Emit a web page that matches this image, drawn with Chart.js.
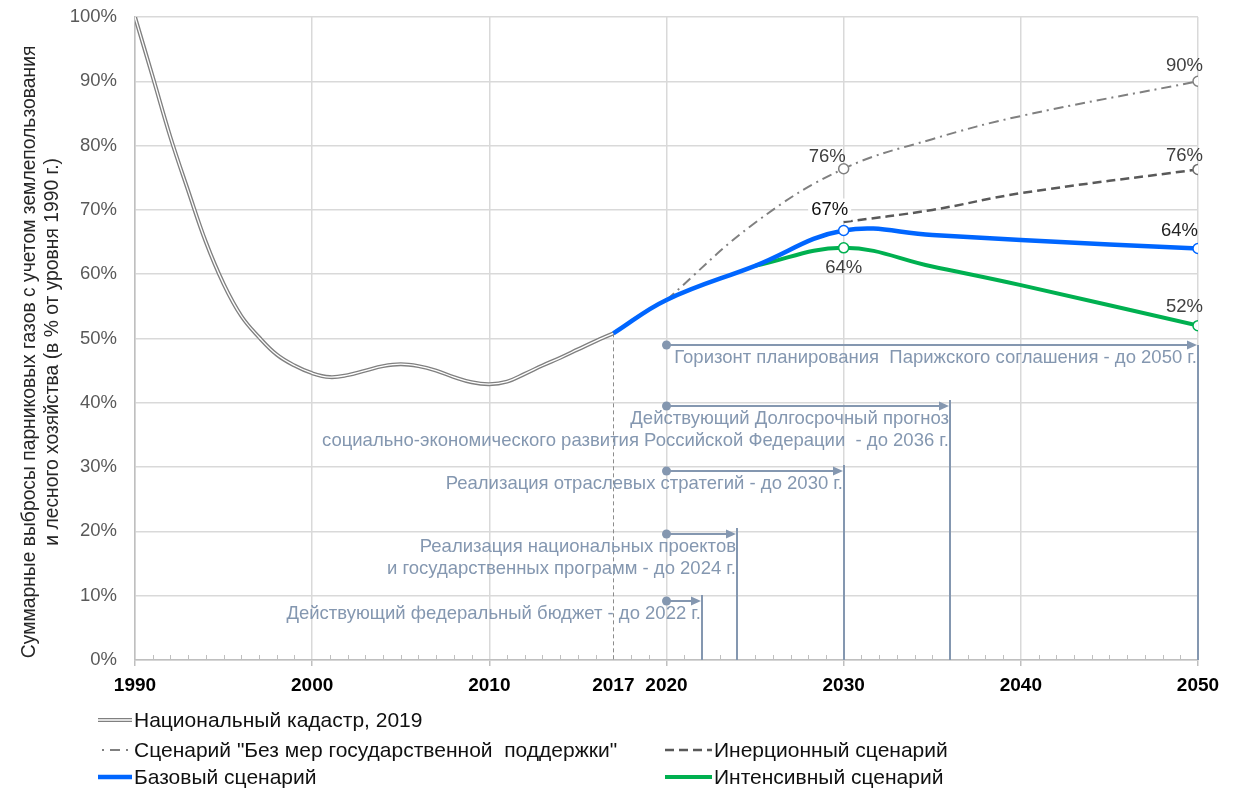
<!DOCTYPE html>
<html lang="ru">
<head>
  <meta charset="UTF-8">
  <title>Суммарные выбросы парниковых газов</title>
  <script src="https://cdn.jsdelivr.net/npm/chart.js"></script>
  <style>
    body { margin: 0; background: #fff; font-family: "Liberation Sans", Arial, sans-serif; }
    .wrap { position: relative; width: 1242px; height: 788px; }
    .legend-item { position: absolute; display: flex; align-items: center; height: 26px;
      font-size: 21px; color: #111; white-space: pre; }
    .legend-item svg { display: block; margin-right: 2px; }
  </style>
</head>
<body>
  <div class="wrap">
    <canvas id="chart" width="1242" height="788"></canvas>
    <div id="legend"></div>
  </div>
  <script>
    // national inventory, 1990-2017
    const cadastreYears = [1990, 1991, 1992, 1993, 1994, 1995, 1996, 1997, 1998, 1999,
      2000, 2001, 2002, 2003, 2004, 2005, 2006, 2007, 2008, 2009,
      2010, 2011, 2012, 2013, 2014, 2015, 2016, 2017];
    const cadastreValues = [100, 90.7, 81.3, 73.0, 65.0, 58.5, 53.5, 50.2, 47.5, 45.8,
      44.6, 44.0, 44.3, 45.0, 45.7, 46.0, 45.7, 45.0, 44.0, 43.2,
      42.9, 43.3, 44.5, 45.8, 47.0, 48.3, 49.6, 50.8];

    // scenarios
    const baseYears = [2017, 2020, 2025, 2030, 2035, 2040, 2050];
    const baseValues = [50.8, 56.0, 61.3, 66.8, 66.1, 65.3, 64.0];
    const intensiveYears = [2025, 2030, 2035, 2040, 2050];
    const intensiveValues = [61.3, 64.1, 61.2, 58.3, 52.0];
    const inertiaYears = [2030, 2035, 2040, 2050];
    const inertiaValues = [68.1, 70.0, 72.6, 76.3];
    const noSupportYears = [2020, 2025, 2030, 2035, 2040, 2050];
    const noSupportValues = [56.0, 68.0, 76.4, 81.0, 84.6, 90.0];

    const xTickYears = [1990, 2000, 2010, 2017, 2020, 2030, 2040, 2050];

    // planning horizons
    const horizonStart = 2020;
    const horizonEnds = [2050, 2036, 2030, 2024, 2022];
    const horizonLevels = [49.0, 39.5, 29.4, 19.6, 9.2];
    const horizonTexts = [
      ['Горизонт планирования  Парижского соглашения - до 2050 г.'],
      ['Действующий Долгосрочный прогноз', 'социально-экономического развития Российской Федерации  - до 2036 г.'],
      ['Реализация отраслевых стратегий - до 2030 г.'],
      ['Реализация национальных проектов', 'и государственных программ - до 2024 г.'],
      ['Действующий федеральный бюджет - до 2022 г.']
    ];

    const FONT = '"Liberation Sans", Arial, sans-serif';
    const HORIZON = '#8497b0';
    const NONE = 'rgba(0,0,0,0)';
    Chart.defaults.font.family = FONT;

    const pts = (xs, ys) => xs.map((x, i) => ({ x: x, y: ys[i] }));
    const markers = years => c => years.includes(c.raw.x) ? 5 : 0;

    // value labels: dataset index, year, offsets
    const pointLabels = [
      { ds: 3, year: 2030, dx: 2, dy: -12, align: 'right', color: '#404040' },
      { ds: 3, year: 2050, dx: 5, dy: -15, align: 'right', color: '#404040' },
      { ds: 2, year: 2050, dx: 5, dy: -13, align: 'right', color: '#404040' },
      { ds: 0, year: 2030, dx: -14, dy: -21, align: 'center', color: '#111', bg: true },
      { ds: 0, year: 2050, dx: 0, dy: -18, align: 'right', color: '#222' },
      { ds: 1, year: 2030, dx: 0, dy: 20, align: 'center', color: '#404040' },
      { ds: 1, year: 2050, dx: 5, dy: -19, align: 'right', color: '#404040' }
    ];

    const extras = {
      id: 'extras',
      beforeDatasetsDraw(chart) {
        const { ctx, scales: { x, y } } = chart;
        const y0 = y.getPixelForValue(0);
        ctx.save();
        // yearly minor ticks
        ctx.strokeStyle = '#bfbfbf';
        ctx.lineWidth = 1;
        for (let yr = 1991; yr < 2050; yr++) {
          if (yr % 10 === 0) continue;
          const px = Math.round(x.getPixelForValue(yr)) + 0.5;
          ctx.beginPath(); ctx.moveTo(px, y0); ctx.lineTo(px, y0 - 5); ctx.stroke();
        }
        // end of inventory data
        const last = cadastreYears.length - 1;
        const lx = Math.round(x.getPixelForValue(cadastreYears[last])) + 0.5;
        ctx.strokeStyle = '#8c8c8c';
        ctx.setLineDash([4, 3]);
        ctx.beginPath(); ctx.moveTo(lx, y.getPixelForValue(cadastreValues[last])); ctx.lineTo(lx, y0); ctx.stroke();
        ctx.setLineDash([]);

        // horizons
        ctx.strokeStyle = HORIZON;
        ctx.fillStyle = HORIZON;
        ctx.lineWidth = 2;
        ctx.font = '18.5px ' + FONT;
        ctx.textAlign = 'right';
        ctx.textBaseline = 'middle';
        horizonLevels.forEach((lv, i) => {
          const py = Math.round(y.getPixelForValue(lv));
          const xs = x.getPixelForValue(horizonStart);
          const xe = Math.round(x.getPixelForValue(horizonEnds[i]));
          ctx.beginPath(); ctx.moveTo(xe, i === 0 ? py : py - 6); ctx.lineTo(xe, y0); ctx.stroke();
          ctx.beginPath(); ctx.moveTo(xs, py); ctx.lineTo(xe - 8, py); ctx.stroke();
          ctx.beginPath(); ctx.moveTo(xe - 1, py); ctx.lineTo(xe - 11, py - 4.5); ctx.lineTo(xe - 11, py + 4.5); ctx.closePath(); ctx.fill();
          ctx.beginPath(); ctx.arc(xs, py, 4.5, 0, Math.PI * 2); ctx.fill();
          horizonTexts[i].forEach((t, k) => ctx.fillText(t, xe - 1, py + 13 + k * 22));
        });
        ctx.restore();
      },
      afterDatasetsDraw(chart) {
        const { ctx } = chart;
        ctx.save();
        ctx.font = '18.5px ' + FONT;
        ctx.textBaseline = 'middle';
        pointLabels.forEach(l => {
          const ds = chart.data.datasets[l.ds];
          const idx = ds.data.findIndex(p => p.x === l.year);
          const el = chart.getDatasetMeta(l.ds).data[idx];
          const txt = Math.round(ds.data[idx].y) + '%';
          const tx = el.x + l.dx, ty = el.y + l.dy;
          ctx.textAlign = l.align;
          if (l.bg) {
            const w = ctx.measureText(txt).width;
            ctx.fillStyle = '#fff';
            ctx.fillRect(tx - w / 2 - 3, ty - 11, w + 6, 22);
          }
          ctx.fillStyle = l.color;
          ctx.fillText(txt, tx, ty);
        });
        ctx.restore();
      }
    };

    new Chart(document.getElementById('chart'), {
      type: 'line',
      data: {
        datasets: [
          { label: 'Базовый сценарий', data: pts(baseYears, baseValues), order: 0,
            borderColor: '#0066ff', borderWidth: 4.5, pointRadius: markers([2030, 2050]),
            pointBackgroundColor: '#fff', pointBorderColor: '#0066ff', pointBorderWidth: 1.5 },
          { label: 'Интенсивный сценарий', data: pts(intensiveYears, intensiveValues), order: 1,
            borderColor: '#00b050', borderWidth: 4, pointRadius: markers([2030, 2050]),
            pointBackgroundColor: '#fff', pointBorderColor: '#00b050', pointBorderWidth: 1.5 },
          { label: 'Инерционный сценарий', data: pts(inertiaYears, inertiaValues), order: 2,
            borderColor: '#595959', borderWidth: 2.5, borderDash: [9, 5], pointRadius: markers([2050]),
            pointBackgroundColor: '#fff', pointBorderColor: '#6e6e6e', pointBorderWidth: 1.5 },
          { label: 'Сценарий "Без мер государственной  поддержки"', data: pts(noSupportYears, noSupportValues), order: 3,
            borderColor: '#808080', borderWidth: 2, borderDash: [10, 5, 2, 5], pointRadius: markers([2030, 2050]),
            pointBackgroundColor: '#fff', pointBorderColor: '#808080', pointBorderWidth: 1.5 },
          { label: 'Национальный кадастр, 2019', data: pts(cadastreYears, cadastreValues), order: 4,
            borderColor: '#ffffff', borderWidth: 1.3, pointRadius: 0 },
          { label: 'Национальный кадастр, 2019 (контур)', data: pts(cadastreYears, cadastreValues), order: 5,
            borderColor: '#808080', borderWidth: 4, pointRadius: 0 }
        ]
      },
      options: {
        responsive: false,
        animation: false,
        events: [],
        layout: { padding: { top: 17, right: 44, bottom: 88, left: 0 } },
        elements: { line: { tension: 0.4, borderCapStyle: 'butt' } },
        plugins: { legend: { display: false }, tooltip: { enabled: false } },
        scales: {
          x: {
            type: 'linear', min: 1990, max: 2050,
            afterBuildTicks(s) { s.ticks = xTickYears.map(v => ({ value: v })); },
            afterFit(s) { s.height = 40; },
            ticks: { autoSkip: false, maxRotation: 0, color: '#000', padding: 8,
              font: { size: 19, weight: 'bold' }, callback: v => String(v) },
            grid: { lineWidth: 1.5, tickLength: 6,
              color: c => c.tick && c.tick.value === 2017 ? NONE : '#d9d9d9',
              tickColor: c => c.tick && c.tick.value === 2017 ? NONE : '#bfbfbf' },
            border: { color: '#bfbfbf', width: 1.5 }
          },
          y: {
            min: 0, max: 100,
            afterFit(s) { s.width = 135; },
            // invisible tick marks give the label gap without padding the top of the plot
            ticks: { stepSize: 10, color: '#595959', padding: 0, font: { size: 18.5 },
              callback: v => v + '%' },
            grid: { color: '#d9d9d9', lineWidth: 1.5, tickLength: 18, tickColor: NONE },
            border: { color: '#bfbfbf', width: 1.5 },
            // trailing spaces nudge the rotated title down a little, as in the original
            title: { display: true, color: '#262626', font: { size: 19.3 }, padding: { top: 18, bottom: 0 },
              text: ['Суммарные выбросы парниковых газов с учетом землепользования     ',
                     'и лесного хозяйства (в % от уровня 1990 г.)     '] }
          }
        }
      },
      plugins: [extras]
    });

    // legend laid out like the original, three rows and two columns
    const legendItems = [
      { text: 'Национальный кадастр, 2019', left: 98, top: 720, w: 34,
        svg: '<line x1="0" y1="6" x2="34" y2="6" stroke="#808080" stroke-width="4"/><line x1="0" y1="6" x2="34" y2="6" stroke="#fff" stroke-width="1.3"/>' },
      { text: 'Сценарий "Без мер государственной  поддержки"', left: 98, top: 750, w: 34,
        svg: '<line x1="4" y1="6" x2="30" y2="6" stroke="#808080" stroke-width="2" stroke-dasharray="2 6 10 6"/>' },
      { text: 'Инерционный сценарий', left: 665, top: 750, w: 47,
        svg: '<line x1="0" y1="6" x2="47" y2="6" stroke="#595959" stroke-width="2.5" stroke-dasharray="9 5"/>' },
      { text: 'Базовый сценарий', left: 98, top: 777, w: 34,
        svg: '<line x1="0" y1="6" x2="34" y2="6" stroke="#0066ff" stroke-width="4.5"/>' },
      { text: 'Интенсивный сценарий', left: 665, top: 777, w: 47,
        svg: '<line x1="0" y1="6" x2="47" y2="6" stroke="#00b050" stroke-width="4"/>' }
    ];
    const legend = document.getElementById('legend');
    legendItems.forEach(it => {
      const div = document.createElement('div');
      div.className = 'legend-item';
      div.style.left = it.left + 'px';
      div.style.top = (it.top - 13) + 'px';
      div.innerHTML = `<svg width="${it.w}" height="12">${it.svg}</svg>`;
      const span = document.createElement('span');
      span.textContent = it.text;
      div.appendChild(span);
      legend.appendChild(div);
    });
  </script>
</body>
</html>
